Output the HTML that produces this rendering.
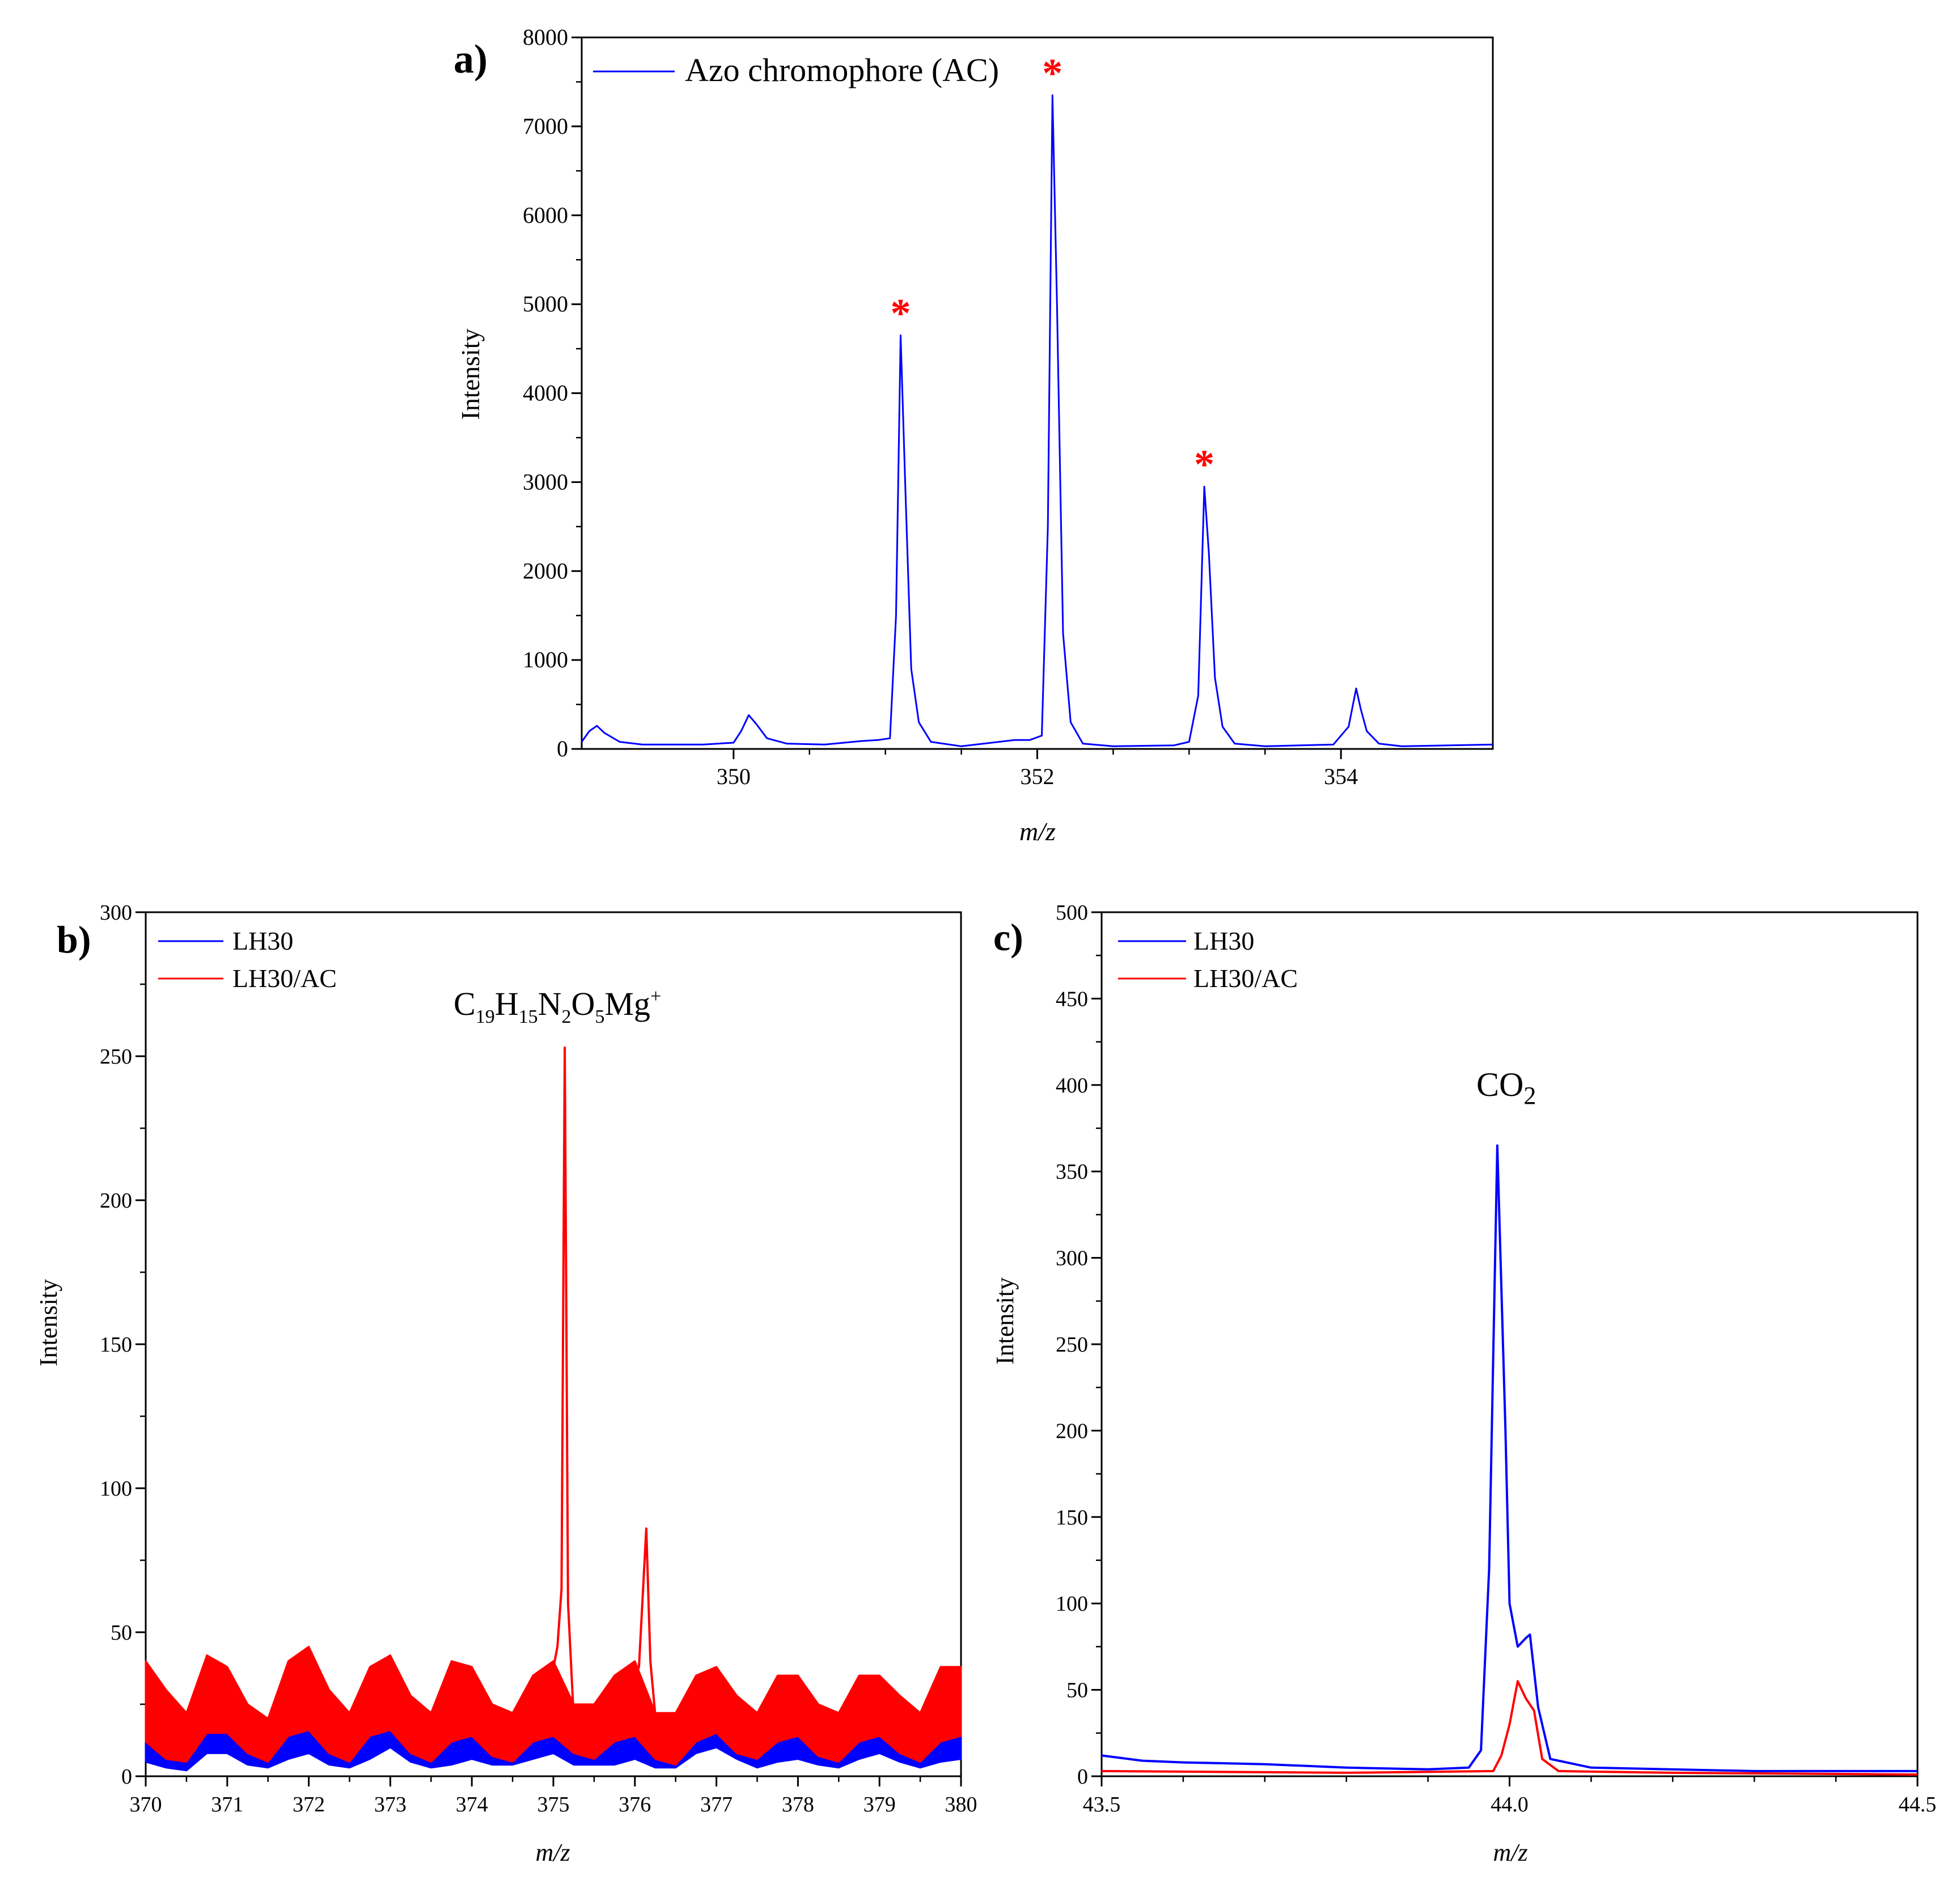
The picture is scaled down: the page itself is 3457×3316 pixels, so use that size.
<!DOCTYPE html>
<html><head><meta charset="utf-8"><style>
body{margin:0;background:#fff}
svg{display:block;font-family:"Liberation Serif",serif}
</style></head><body>
<svg id="s" width="3457" height="3316" viewBox="0 0 3457 3316"></svg>
<script>
// Panel a data
const aX=[349.0,349.05,349.1,349.15,349.25,349.4,349.8,350.0,350.05,350.1,350.15,350.22,350.35,350.6,350.85,350.95,351.03,351.07,351.1,351.13,351.17,351.22,351.3,351.5,351.85,351.95,352.03,352.07,352.1,352.13,352.17,352.22,352.3,352.5,352.9,353.0,353.06,353.1,353.13,353.17,353.22,353.3,353.5,353.95,354.05,354.1,354.13,354.17,354.25,354.4,355.0];
const aY=[80,200,260,180,80,50,50,70,200,380,280,120,60,50,90,100,120,1500,4650,3000,900,300,80,30,100,100,150,2500,7350,5000,1300,300,60,30,40,80,600,2950,2200,800,250,60,30,50,250,680,450,200,60,30,50];
const aYTicks=[0,1000,2000,3000,4000,5000,6000,7000,8000];
const aXTicks=[350,352,354];
const aStars=[351.1,352.1,353.1];
const aStarY=[4650,7350,2950];
// Panel b data
const bX=[370,370.25,370.5,370.75,371,371.25,371.5,371.75,372,372.25,372.5,372.75,373,373.25,373.5,373.75,374,374.25,374.5,374.75,375,375.25,375.5,375.75,376,376.25,376.5,376.75,377,377.25,377.5,377.75,378,378.25,378.5,378.75,379,379.25,379.5,379.75,380];
const bRedHi=[40,30,22,42,38,25,20,40,45,30,22,38,42,28,22,40,38,25,22,35,40,25,25,35,40,22,22,35,38,28,22,35,35,25,22,35,35,28,22,38,38];
const bRedLo=[12,6,5,15,15,8,5,14,16,8,5,14,16,8,5,12,14,7,5,12,14,8,6,12,14,6,4,12,15,8,6,12,14,7,5,12,14,8,5,12,14];
const bBlueHi=[22,18,15,22,24,18,14,20,22,16,14,22,30,20,15,18,20,16,15,20,25,18,20,20,22,16,15,25,28,22,16,20,22,18,15,22,25,22,16,18,22];
const bBlueLo=[5,3,2,8,8,4,3,6,8,4,3,6,10,5,3,4,6,4,4,6,8,4,4,4,6,3,3,8,10,6,3,5,6,4,3,6,8,5,3,5,6];
const bSpikeX=[374.95,375.05,375.1,375.14,375.18,375.25,375.95,376.05,376.14,376.19,376.27];
const bSpikeY=[30,45,65,253,60,20,30,38,86,40,15];
const bYTicks=[0,50,100,150,200,250,300];
const bXTicks=[370,371,372,373,374,375,376,377,378,379,380];
// Panel c data
const cBlueX=[43.5,43.55,43.6,43.7,43.8,43.9,43.95,43.965,43.975,43.985,43.995,44.0,44.01,44.02,44.025,44.035,44.05,44.1,44.3,44.5];
const cBlueY=[12,9,8,7,5,4,5,15,120,365,200,100,75,80,82,40,10,5,3,3];
const cRedX=[43.5,43.8,43.98,43.99,44.0,44.01,44.02,44.03,44.04,44.06,44.2,44.5];
const cRedY=[3,2,3,12,30,55,45,38,10,3,2,1];
const cYTicks=[0,50,100,150,200,250,300,350,400,450,500];
const cXTicks=[43.5,44.0,44.5];

const S=document.getElementById('s');
const NS='http://www.w3.org/2000/svg';
function mk(t,a,p){const e=document.createElementNS(NS,t);for(const k in a)e.setAttribute(k,a[k]);(p||S).appendChild(e);return e;}
function txt(x,y,s,size,anchor,extra){const e=mk('text',Object.assign({x:x,y:y,'font-size':size,'text-anchor':anchor||'start',fill:'#000'},extra||{}));e.textContent=s;return e;}

function axes(name,L,T,R,B,x0,x1,y0,y1,yt,xt,ydec,minorY,minorX,fs){
  const g=mk('g',{});
  
  
  const sx=v=>L+(v-x0)/(x1-x0)*(R-L), sy=v=>B-(v-y0)/(y1-y0)*(B-T);
  const fr=mk('rect',{x:L,y:T,width:R-L,height:B-T,fill:'none',stroke:'#000','stroke-width':3},g);
  
  
  yt.forEach((v,i)=>{const y=sy(v);mk('line',{x1:L-18,x2:L,y1:y,y2:y,stroke:'#000','stroke-width':3},g);
    const t=txt(L-24,y+13,v.toFixed(ydec),fs,'end');
    if(i<yt.length-1){for(let k=1;k<minorY;k++){const ym=sy(v+(yt[i+1]-v)*k/minorY);mk('line',{x1:L-10,x2:L,y1:ym,y2:ym,stroke:'#000','stroke-width':2.5},g);}}});
  xt.forEach((v,i)=>{const x=sx(v);mk('line',{x1:x,x2:x,y1:B,y2:B+18,stroke:'#000','stroke-width':3},g);
    const t=txt(x,B+62,xt[0]<100?v.toFixed(1):String(v),fs,'middle');
    if(i<xt.length-1){for(let k=1;k<minorX;k++){const xm=sx(v+(xt[i+1]-v)*k/minorX);mk('line',{x1:xm,x2:xm,y1:B,y2:B+10,stroke:'#000','stroke-width':2.5},g);}}});
  return {sx,sy,g};
}
function line(ax,xs,ys,col,name,w){const d=xs.map((x,i)=>(i?'L':'M')+ax.sx(x).toFixed(1)+','+ax.sy(ys[i]).toFixed(1)).join('');
  const p=mk('path',{d:d,fill:'none',stroke:col,'stroke-width':w||3,'stroke-linejoin':'round'});
  return p;}
function band(ax,xs,hi,lo,col,name){let d=xs.map((x,i)=>(i?'L':'M')+ax.sx(x).toFixed(1)+','+ax.sy(hi[i]).toFixed(1)).join('');
  for(let i=xs.length-1;i>=0;i--)d+='L'+ax.sx(xs[i]).toFixed(1)+','+ax.sy(lo[i]).toFixed(1);d+='Z';
  const p=mk('path',{d:d,fill:col,stroke:col,'stroke-width':3,'stroke-linejoin':'round'});
  return p;}

// Panel a
const A=axes('panel-a-axes',1026,66,2633,1321,349,355,0,8000,aYTicks,aXTicks,0,2,4,40);
line(A,aX,aY,'#0000ff','series-azo-chromophore',3);
aStars.forEach((x,i)=>{const t=txt(A.sx(x),A.sy(aStarY[i])-15,'*',72,'middle',{fill:'#ff0000','font-weight':'bold'});
  });
let t;
t=txt(800,128,'a)',72,'start',{'font-weight':'bold'});
t=mk('line',{x1:1046,x2:1190,y1:126,y2:126,stroke:'#0000ff','stroke-width':3});
t=txt(1208,143,'Azo chromophore (AC)',58);
t=txt(845,660,'Intensity',46,'middle',{transform:'rotate(-90 845 660)'});
t=txt(1830,1482,'m/z',46,'middle',{'font-style':'italic'});

// Panel b
const Bx=axes('panel-b-axes',257,1609,1695,3133,370,380,0,300,bYTicks,bXTicks,0,2,2,38);
band(Bx,bX,bBlueHi,bBlueLo,'#0000ff','series-lh30-b');
band(Bx,bX,bRedHi,bRedLo,'#ff0000','series-lh30-ac-b');
line(Bx,bSpikeX,bSpikeY,'#ff0000','series-lh30-ac-b-peaks',4);
t=txt(100,1680,'b)',68,'start',{'font-weight':'bold'});
t=mk('line',{x1:279,x2:394,y1:1660,y2:1660,stroke:'#0000ff','stroke-width':3});
t=txt(410,1675,'LH30',46);
t=mk('line',{x1:279,x2:394,y1:1726,y2:1726,stroke:'#ff0000','stroke-width':3});
t=txt(410,1741,'LH30/AC',46);
t=mk('text',{x:800,y:1790,'font-size':58,fill:'#000'});
t.innerHTML='C<tspan font-size="34" dy="14">19</tspan><tspan dy="-14">H</tspan><tspan font-size="34" dy="14">15</tspan><tspan dy="-14">N</tspan><tspan font-size="34" dy="14">2</tspan><tspan dy="-14">O</tspan><tspan font-size="34" dy="14">5</tspan><tspan dy="-14">Mg</tspan><tspan font-size="34" dy="-22">+</tspan>';
t=txt(100,2333,'Intensity',44,'middle',{transform:'rotate(-90 100 2333)'});
t=txt(975,3282,'m/z',44,'middle',{'font-style':'italic'});

// Panel c
const C=axes('panel-c-axes',1943,1609,3382,3133,43.5,44.5,0,500,cYTicks,cXTicks,0,2,5,38);
line(C,cBlueX,cBlueY,'#0000ff','series-lh30-c',4);
line(C,cRedX,cRedY,'#ff0000','series-lh30-ac-c',4);
t=txt(1752,1676,'c)',68,'start',{'font-weight':'bold'});
t=mk('line',{x1:1972,x2:2092,y1:1660,y2:1660,stroke:'#0000ff','stroke-width':3});
t=txt(2105,1675,'LH30',46);
t=mk('line',{x1:1972,x2:2092,y1:1726,y2:1726,stroke:'#ff0000','stroke-width':3});
t=txt(2105,1741,'LH30/AC',46);
t=mk('text',{x:2604,y:1933,'font-size':60,fill:'#000'});
t.innerHTML='CO<tspan font-size="44" dy="14">2</tspan>';
t=txt(1787,2330,'Intensity',44,'middle',{transform:'rotate(-90 1787 2330)'});
t=txt(2664,3282,'m/z',44,'middle',{'font-style':'italic'});
</script>
</body></html>
